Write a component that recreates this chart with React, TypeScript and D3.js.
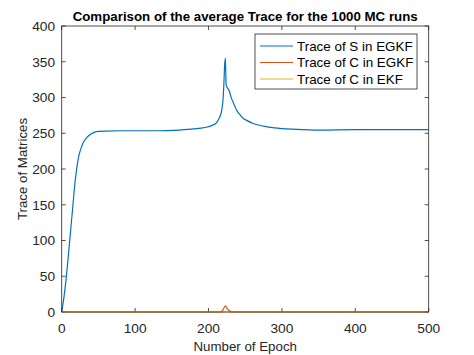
import React from "react";
import * as d3 from "d3";

const sEpochs = [0, 3, 6, 9, 12, 15, 18, 20, 22, 24, 27, 30, 35, 40, 45, 50, 60, 80, 100, 130, 160, 180, 195, 205, 211, 215, 218, 220, 221, 222, 223, 224, 226, 228, 230, 232, 235, 238, 242, 247, 252, 260, 275, 290, 320, 350, 400, 450, 500];
const sValues = [0, 20, 46, 78, 112, 146, 180, 197, 211, 221, 231, 238, 245, 249, 251.5, 252.5, 253, 253.5, 253.5, 253.5, 254.5, 256, 258, 261, 265, 272, 282, 300, 320, 345, 355, 318, 313, 310, 303, 297, 290, 283, 277, 271, 268, 264, 260, 257.5, 255.5, 254.5, 255, 255, 255];

const cEgkfEpochs = [0, 216, 219, 223, 226, 229, 232, 500];
const cEgkfValues = [0, 0, 2, 8.5, 4, 1.5, 0, 0];

const cEkfEpochs = [0, 100, 200, 300, 400, 500];
const cEkfValues = [0, 0, 0, 0, 0, 0];

const xTicks = [0, 100, 200, 300, 400, 500];
const yTicks = [0, 50, 100, 150, 200, 250, 300, 350, 400];

const seriesNames = ["Trace of S in EGKF", "Trace of C in EGKF", "Trace of C in EKF"];
const seriesColors = ["#0072BD", "#D95319", "#EDB120"];

const W = 474;
const H = 355;
const L = 61.7, R = 428.7, T = 26, B = 312;
const axisColor = "#262626";
const font = "'Liberation Sans', Arial, Helvetica, sans-serif";

export default function App() {
  const x = d3.scaleLinear().domain([0, 500]).range([L, R]);
  const y = d3.scaleLinear().domain([0, 400]).range([B, T]);
  const line = d3
    .line<[number, number]>()
    .x((d) => x(d[0]))
    .y((d) => y(d[1]))
    .curve(d3.curveMonotoneX);

  const series = [
    sEpochs.map((e, i) => [e, sValues[i]] as [number, number]),
    cEgkfEpochs.map((e, i) => [e, cEgkfValues[i]] as [number, number]),
    cEkfEpochs.map((e, i) => [e, cEkfValues[i]] as [number, number]),
  ];

  const tickLen = 4;
  const legendX = 255, legendY = 34, legendW = 162, legendH = 55;
  const entryYs = [46, 62.5, 79];

  return (
    <svg
      width={W}
      height={H}
      style={{ position: "absolute", left: 0, top: 0, background: "#fff" }}
      fontFamily={font}
    >
      <rect x={0} y={0} width={W} height={H} fill="#fff" />
      <defs>
        <clipPath id="plot">
          <rect x={L} y={T - 2} width={R - L} height={B - T + 4} />
        </clipPath>
      </defs>
      {xTicks.map((t) => (
        <g key={"xt" + t}>
          <line x1={x(t)} x2={x(t)} y1={B} y2={B - tickLen} stroke={axisColor} strokeWidth={0.8} />
          <line x1={x(t)} x2={x(t)} y1={T} y2={T + tickLen} stroke={axisColor} strokeWidth={0.8} />
          <text x={x(t)} y={333} textAnchor="middle" fontSize={13.7} fill={axisColor}>
            {t}
          </text>
        </g>
      ))}
      {yTicks.map((t) => (
        <g key={"yt" + t}>
          <line x1={L} x2={L + tickLen} y1={y(t)} y2={y(t)} stroke={axisColor} strokeWidth={0.8} />
          <line x1={R} x2={R - tickLen} y1={y(t)} y2={y(t)} stroke={axisColor} strokeWidth={0.8} />
          <text x={55} y={y(t)} dy="0.35em" textAnchor="end" fontSize={13.7} fill={axisColor}>
            {t}
          </text>
        </g>
      ))}
      <g clipPath="url(#plot)">
        {series.map((s, i) => (
          <path key={i} d={line(s) || ""} fill="none" stroke={seriesColors[i]} strokeWidth={1.2} />
        ))}
      </g>
      <rect x={L} y={T} width={R - L} height={B - T} fill="none" stroke={axisColor} strokeWidth={0.8} />
      <text x={(L + R) / 2} y={21} textAnchor="middle" fontSize={13.3} fontWeight="bold" fill="#000">
        Comparison of the average Trace for the 1000 MC runs
      </text>
      <text x={(L + R) / 2} y={351} textAnchor="middle" fontSize={13.3} fill={axisColor}>
        Number of Epoch
      </text>
      <text
        transform={`translate(22,${(T + B) / 2}) rotate(-90)`}
        textAnchor="middle"
        dy="0.35em"
        fontSize={13.3}
        fill={axisColor}
      >
        Trace of Matrices
      </text>
      <rect x={legendX} y={legendY} width={legendW} height={legendH} fill="#fff" stroke={axisColor} strokeWidth={0.8} />
      {seriesNames.map((n, i) => (
        <g key={n}>
          <line x1={260} x2={293} y1={entryYs[i]} y2={entryYs[i]} stroke={seriesColors[i]} strokeWidth={1.2} />
          <text x={297} y={entryYs[i]} dy="0.35em" fontSize={13.4} fill="#000">
            {n}
          </text>
        </g>
      ))}
    </svg>
  );
}
